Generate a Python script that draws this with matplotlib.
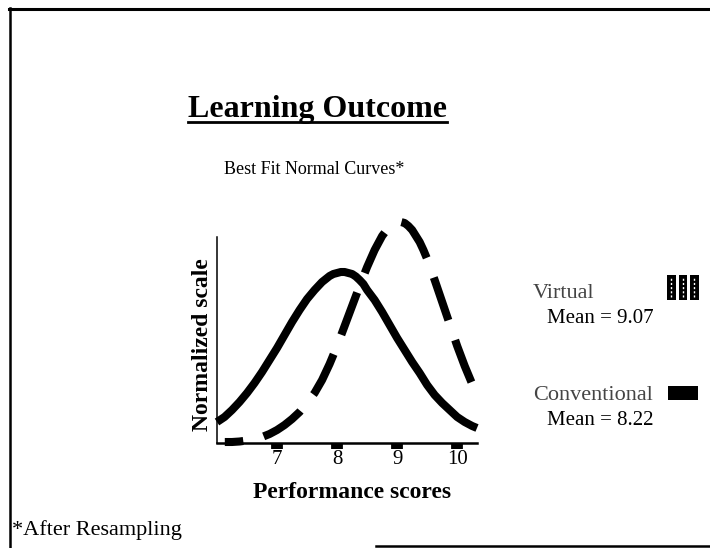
import matplotlib
matplotlib.use("Agg")
import matplotlib.pyplot as plt
from matplotlib.lines import Line2D
from matplotlib.patches import Rectangle

# ---- data ----
x_conv = [6.0, 6.125, 6.25, 6.375, 6.5, 6.625, 6.75, 6.875, 7.0, 7.125, 7.25, 7.375,
          7.5, 7.625, 7.75, 7.8125, 7.875, 7.9375, 8.0, 8.0625, 8.125, 8.1875, 8.25,
          8.3125, 8.375, 8.4375, 8.5, 8.625, 8.75, 8.875,
          9.0, 9.125, 9.25, 9.375, 9.5, 9.625, 9.75, 9.875, 10.0, 10.125, 10.25, 10.33]
y_conv = [0.21, 0.26, 0.33, 0.41, 0.50, 0.60, 0.71, 0.83, 0.95, 1.08, 1.21, 1.33,
          1.44, 1.53, 1.61, 1.64, 1.67, 1.69, 1.70, 1.71, 1.71, 1.70, 1.69,
          1.665, 1.63, 1.59, 1.53, 1.43, 1.31, 1.18,
          1.05, 0.93, 0.81, 0.70, 0.58, 0.48, 0.40, 0.33, 0.26, 0.21, 0.17, 0.15]

x_virt = [6.13, 6.25, 6.375, 6.5, 6.625, 6.75, 6.875, 7.0, 7.125, 7.25, 7.375,
          7.5, 7.625, 7.75, 7.875, 8.0, 8.125, 8.25, 8.375, 8.5, 8.625, 8.75,
          8.8125, 8.875, 8.9375, 9.0, 9.0625, 9.125, 9.1875, 9.25, 9.3125, 9.375,
          9.4375, 9.5, 9.625, 9.75, 9.875, 10.0, 10.125, 10.25, 10.33]
y_virt = [0.01, 0.01, 0.015, 0.025, 0.04, 0.06, 0.09, 0.13, 0.18, 0.24, 0.31,
          0.40, 0.50, 0.63, 0.79, 0.97, 1.17, 1.37, 1.57, 1.76, 1.93, 2.07,
          2.12, 2.16, 2.19, 2.21, 2.21, 2.20, 2.17, 2.13, 2.07, 2.01,
          1.93, 1.84, 1.63, 1.41, 1.19, 0.97, 0.77, 0.59, 0.49]

xticks = [7, 8, 9, 10]
xtick_labels = ["7", "8", "9", "10"]

title = "Learning Outcome"
subtitle = "Best Fit Normal Curves*"
xlabel = "Performance scores"
ylabel = "Normalized scale"
legend_names = ["Virtual", "Conventional"]
legend_means = ["Mean = 9.07", "Mean = 8.22"]
footnote = "*After Resampling"

SERIF = ["Liberation Serif", "DejaVu Serif"]
plt.rcParams["font.family"] = SERIF

W, H = 710, 548
fig = plt.figure(figsize=(W / 100, H / 100), dpi=100)
fig.patch.set_facecolor("white")

def fx(px):
    return px / W

def fy(py):
    return 1 - py / H

ax = fig.add_axes([fx(217), fy(443), fx(477) - fx(217), (443 - 237) / H])
ax.set_xlim(6.0, 10.33)
ax.set_ylim(0, 2.06)

ax.plot(x_conv, y_conv, color="black", lw=5.8, solid_capstyle="butt",
        solid_joinstyle="round", clip_on=False)
ax.plot(x_virt, y_virt, color="black", lw=5.8, linestyle=(3.3, (5.6, 2.6)),
        dash_capstyle="butt", dash_joinstyle="round", clip_on=False)

for s in ["top", "right"]:
    ax.spines[s].set_visible(False)
ax.spines["left"].set_linewidth(1.1)
ax.spines["bottom"].set_linewidth(1.8)
ax.set_yticks([])
ax.set_xticks(xticks)
ax.set_xticklabels(xtick_labels, fontsize=15)
ax.tick_params(axis="x", direction="out", length=4.5, width=8.5, pad=0.5)

# titles and labels
t = fig.text(fx(317), fy(117), title, fontsize=23, fontweight="bold",
             ha="center", va="baseline")
fig.text(fx(314), fy(174), subtitle, fontsize=13, ha="center", va="baseline")
fig.text(fx(202), fy(345), ylabel, fontsize=17, fontweight="bold",
         rotation=90, ha="center", va="center")
fig.text(fx(352), fy(498), xlabel, fontsize=17, fontweight="bold",
         ha="center", va="baseline")

# legend-like annotations on the right
fig.text(fx(533), fy(298), legend_names[0], fontsize=16, color="#444444",
         ha="left", va="baseline")
fig.text(fx(600), fy(323), legend_means[0], fontsize=15, ha="center", va="baseline")
fig.text(fx(533), fy(400), legend_names[1], fontsize=16, color="#444444",
         ha="left", va="baseline")
fig.text(fx(600), fy(425), legend_means[1], fontsize=15, ha="center", va="baseline")

# virtual symbol: three dark bars with light dashes inside
for i in range(3):
    x0 = 667 + i * 11.5
    fig.patches.append(Rectangle((fx(x0), fy(300)), 8.5 / W, 25 / H,
                                 transform=fig.transFigure, facecolor="black",
                                 edgecolor="none"))
    fig.lines.append(Line2D([fx(x0 + 4.2)] * 2, [fy(297), fy(278)],
                            transform=fig.transFigure, color="white", lw=1.0,
                            linestyle=(0, (1.5, 1.5))))
# conventional symbol: solid black block
fig.patches.append(Rectangle((fx(668), fy(400)), 30 / W, 14 / H,
                             transform=fig.transFigure, facecolor="black",
                             edgecolor="none"))

fig.text(fx(12), fy(535), footnote, fontsize=16, ha="left", va="baseline")

# slide frame lines
fig.lines.append(Line2D([fx(9), fx(710)], [fy(9), fy(9)], transform=fig.transFigure,
                        color="black", lw=2.2))
fig.lines.append(Line2D([fx(10), fx(10)], [fy(8), fy(548)], transform=fig.transFigure,
                        color="black", lw=1.8))
fig.lines.append(Line2D([fx(376), fx(710)], [fy(546), fy(546)], transform=fig.transFigure,
                        color="black", lw=1.8))

# underline the title
fig.canvas.draw()
bb = t.get_window_extent(renderer=fig.canvas.get_renderer())
fig.lines.append(Line2D([bb.x0 / W, bb.x1 / W], [fy(122), fy(122)],
                        transform=fig.transFigure, color="black", lw=2.0))

fig.savefig("out.png", dpi=100, facecolor="white")
